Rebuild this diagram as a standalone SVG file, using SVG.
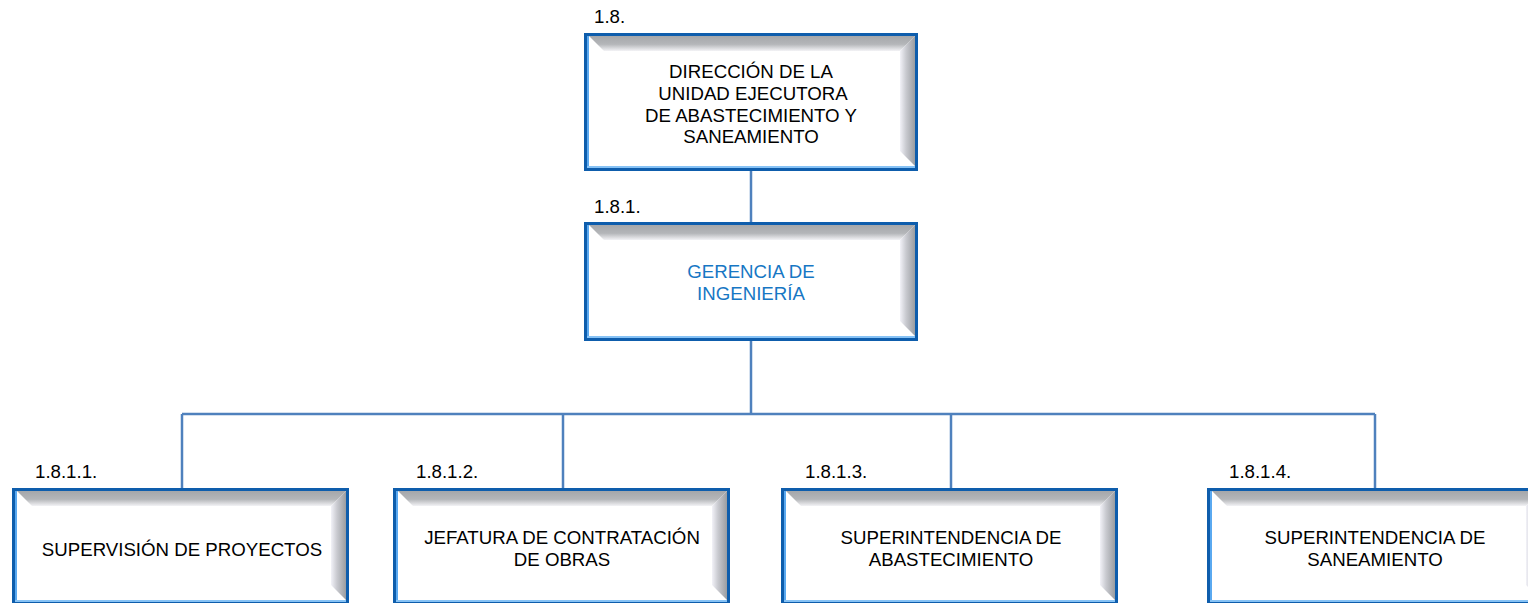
<svg xmlns="http://www.w3.org/2000/svg" width="1528" height="603" viewBox="0 0 1528 603">
<style>
.frame{fill:#0e5dac}
.inner{fill:#ffffff}
.ls{fill:#5aa9f0}
.bs{fill:#86c2f5}
.tb{fill:url(#gTop)}
.rb{fill:url(#gRight)}
.t{font-family:"Liberation Sans",Arial,sans-serif;font-size:18.67px;fill:#000;text-anchor:middle}
.tb2{fill:#1777c4}
.lbl{font-family:"Liberation Sans",Arial,sans-serif;font-size:18.67px;fill:#000}
.conn{stroke:#4f81bd;stroke-width:2.5;fill:none}
</style>
<defs>
<linearGradient id="gTop" x1="0" y1="0" x2="0" y2="1">
<stop offset="0" stop-color="#a5a7aa"/>
<stop offset="0.55" stop-color="#b4b6b9"/>
<stop offset="1" stop-color="#f3f3f6"/>
</linearGradient>
<linearGradient id="gRight" x1="0" y1="0" x2="1" y2="0">
<stop offset="0" stop-color="#f2f2f8"/>
<stop offset="0.4" stop-color="#c9cad0"/>
<stop offset="1" stop-color="#9a9da1"/>
</linearGradient>
</defs>
<g id="connectors">
<line class="conn" x1="751" y1="171" x2="751" y2="222"/>
<line class="conn" x1="751" y1="341" x2="751" y2="414"/>
<line class="conn" x1="182" y1="414" x2="1375" y2="414"/>
<line class="conn" x1="182" y1="414" x2="182" y2="488"/>
<line class="conn" x1="563" y1="414" x2="563" y2="488"/>
<line class="conn" x1="951" y1="414" x2="951" y2="488"/>
<line class="conn" x1="1375" y1="414" x2="1375" y2="488"/>
</g>
<g id="node-1-8">
<text class="lbl" x="594" y="23">1.8.</text>
<rect class="frame" x="584" y="33" width="334" height="138"/>
<rect class="inner" x="587" y="36" width="328" height="132"/>
<rect class="ls" x="587" y="36" width="2" height="132"/>
<rect class="bs" x="587" y="166" width="328" height="2"/>
<polygon class="tb" points="589,36 915,36 900,51 604,51"/>
<polygon class="rb" points="915,36 915,166 900,151 900,51"/>
<text class="t" x="751" y="78">DIRECCIÓN DE LA</text>
<text class="t" x="753" y="100">UNIDAD EJECUTORA</text>
<text class="t" x="751" y="122">DE ABASTECIMIENTO Y</text>
<text class="t" x="751" y="143">SANEAMIENTO</text>
</g>
<g id="node-1-8-1">
<text class="lbl" x="594" y="213">1.8.1.</text>
<rect class="frame" x="584" y="222" width="334" height="119"/>
<rect class="inner" x="587" y="225" width="328" height="113"/>
<rect class="ls" x="587" y="225" width="2" height="113"/>
<rect class="bs" x="587" y="336" width="328" height="2"/>
<polygon class="tb" points="589,225 915,225 900,240 604,240"/>
<polygon class="rb" points="915,225 915,336 900,321 900,240"/>
<text class="t tb2" x="751" y="278">GERENCIA DE</text>
<text class="t tb2" x="751" y="300">INGENIERÍA</text>
</g>
<g id="node-1-8-1-1">
<text class="lbl" x="35" y="478">1.8.1.1.</text>
<rect class="frame" x="12" y="488" width="337" height="117"/>
<rect class="inner" x="15" y="491" width="331" height="111"/>
<rect class="ls" x="15" y="491" width="2" height="111"/>
<rect class="bs" x="15" y="600" width="331" height="2"/>
<polygon class="tb" points="17,491 346,491 331,506 32,506"/>
<polygon class="rb" points="346,491 346,600 331,585 331,506"/>
<text class="t" x="182" y="556">SUPERVISIÓN DE PROYECTOS</text>
</g>
<g id="node-1-8-1-2">
<text class="lbl" x="416" y="478">1.8.1.2.</text>
<rect class="frame" x="393" y="488" width="337" height="117"/>
<rect class="inner" x="396" y="491" width="331" height="111"/>
<rect class="ls" x="396" y="491" width="2" height="111"/>
<rect class="bs" x="396" y="600" width="331" height="2"/>
<polygon class="tb" points="398,491 727,491 712,506 413,506"/>
<polygon class="rb" points="727,491 727,600 712,585 712,506"/>
<text class="t" x="562" y="544">JEFATURA DE CONTRATACIÓN</text>
<text class="t" x="562" y="566">DE OBRAS</text>
</g>
<g id="node-1-8-1-3">
<text class="lbl" x="805" y="478">1.8.1.3.</text>
<rect class="frame" x="781" y="488" width="337" height="117"/>
<rect class="inner" x="784" y="491" width="331" height="111"/>
<rect class="ls" x="784" y="491" width="2" height="111"/>
<rect class="bs" x="784" y="600" width="331" height="2"/>
<polygon class="tb" points="786,491 1115,491 1100,506 801,506"/>
<polygon class="rb" points="1115,491 1115,600 1100,585 1100,506"/>
<text class="t" x="951" y="544">SUPERINTENDENCIA DE</text>
<text class="t" x="951" y="566">ABASTECIMIENTO</text>
</g>
<g id="node-1-8-1-4">
<text class="lbl" x="1229" y="478">1.8.1.4.</text>
<rect class="frame" x="1207" y="488" width="337" height="117"/>
<rect class="inner" x="1210" y="491" width="331" height="111"/>
<rect class="ls" x="1210" y="491" width="2" height="111"/>
<rect class="bs" x="1210" y="600" width="331" height="2"/>
<polygon class="tb" points="1212,491 1541,491 1526,506 1227,506"/>
<polygon class="rb" points="1541,491 1541,600 1526,585 1526,506"/>
<text class="t" x="1375" y="544">SUPERINTENDENCIA DE</text>
<text class="t" x="1375" y="566">SANEAMIENTO</text>
</g>
</svg>
